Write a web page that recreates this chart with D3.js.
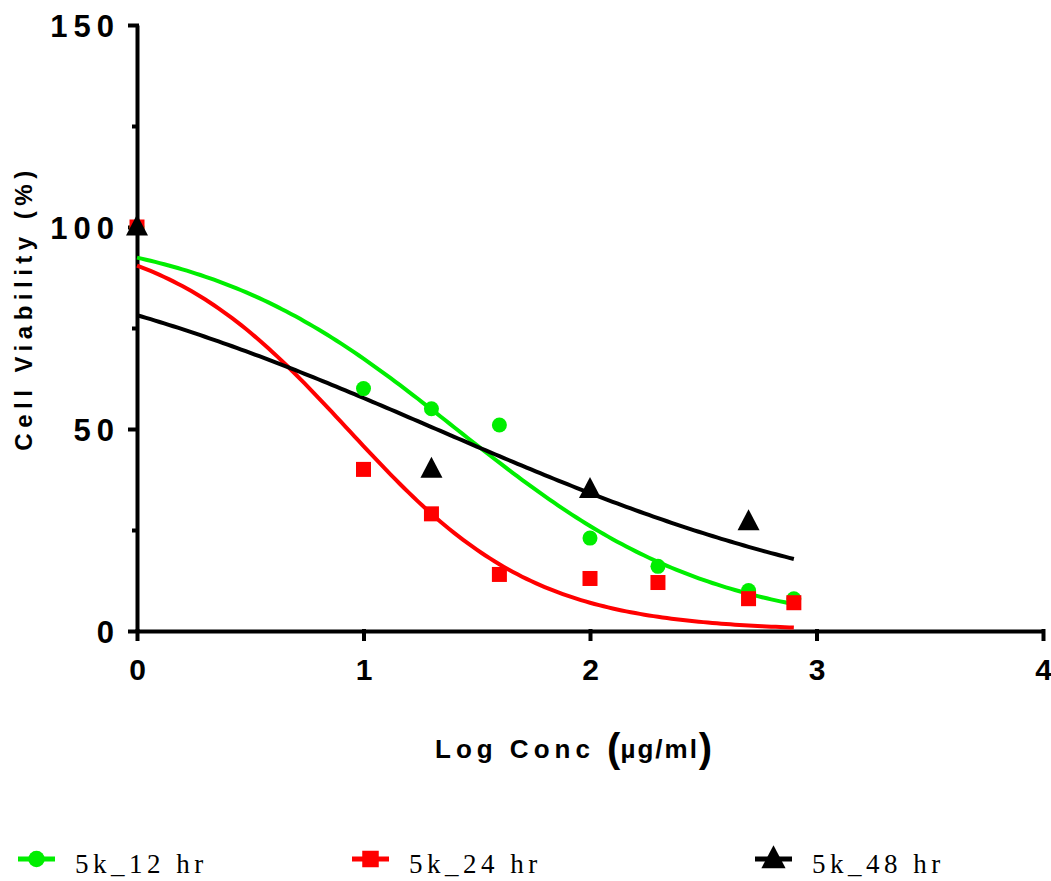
<!DOCTYPE html>
<html>
<head>
<meta charset="utf-8">
<script src="https://cdn.jsdelivr.net/npm/d3@7"></script>
<style>
  body { margin: 0; background: #fff; }
  svg { display: block; }
  .axis text { font-family: "Liberation Sans", Arial, sans-serif; font-weight: bold; fill: #000; }
</style>
</head>
<body>
<svg id="chart"></svg>
<script>
// data
const seriesNames = ['5k_12 hr', '5k_24 hr', '5k_48 hr'];
const seriesColors = ['#00ee00', '#ff0000', '#000000'];

const x12 = [0, 1, 1.3, 1.6, 2, 2.3, 2.7, 2.9];
const y12 = [100, 60, 55, 51, 23, 16, 10, 8];

const x24 = [0, 1, 1.3, 1.6, 2, 2.3, 2.7, 2.9];
const y24 = [100, 40, 29, 14, 13, 12, 8, 7];

const x48 = [0, 1.3, 2, 2.7];
const y48 = [100, 40, 35, 27];

// fitted dose-response curves (top, bottom, logIC50, hill)
const fitTop = [100, 100, 100];
const fitBottom = [0, 0, 0];
const fitLogIC50 = [1.41, 0.93, 1.32];
const fitHill = [0.77, 1.05, 0.42];
const fitRange = [0, 2.9];

const xTicks = [0, 1, 2, 3, 4];
const yTicks = [0, 50, 100, 150];
const yMinorTicks = [25, 75, 125];

let width = 1051;
let height = 881;

let svg = d3.select('#chart')
    .attr('width', width)
    .attr('height', height);

let xScale = d3.scaleLinear().domain([0, 4]).range([137, 1043]);
let yScale = d3.scaleLinear().domain([0, 150]).range([631, 25]);

let series = [
    { xs: x12, ys: y12, shape: 'circle' },
    { xs: x24, ys: y24, shape: 'square' },
    { xs: x48, ys: y48, shape: 'triangle' }
];

// axes
let yMinor = svg.append('g')
    .attr('class', 'axis')
    .attr('transform', 'translate(137,0)')
    .call(d3.axisLeft(yScale).tickValues(yMinorTicks).tickSize(5).tickFormat(''));
yMinor.select('.domain').remove();
yMinor.selectAll('line').attr('stroke-width', 4);

let yAxis = svg.append('g')
    .attr('class', 'axis')
    .attr('transform', 'translate(137,0)')
    .call(d3.axisLeft(yScale).tickValues(yTicks).tickSize(9).tickSizeOuter(0).tickPadding(8));
yAxis.select('.domain').attr('stroke-width', 4);
yAxis.selectAll('line').attr('stroke-width', 4).attr('x2', -9).attr('x1', 2);
yAxis.selectAll('text')
    .attr('font-size', 31)
    .attr('letter-spacing', 6)
    .attr('dy', '0.36em');

let xAxis = svg.append('g')
    .attr('class', 'axis')
    .attr('transform', 'translate(0,631)')
    .call(d3.axisBottom(xScale).tickValues(xTicks).tickFormat(d3.format('d'))
        .tickSize(10).tickSizeOuter(0).tickPadding(18));
xAxis.select('.domain').attr('stroke-width', 4);
xAxis.selectAll('line').attr('stroke-width', 4).attr('y1', -2);
xAxis.selectAll('text')
    .attr('font-size', 30)
    .attr('dy', '0.71em');

// axis titles
svg.append('text')
    .attr('transform', 'translate(32,308) rotate(-90)')
    .attr('text-anchor', 'middle')
    .attr('font-family', '"Liberation Sans", Arial, sans-serif')
    .attr('font-weight', 'bold')
    .attr('font-size', 24)
    .attr('letter-spacing', 5.5)
    .text('Cell Viability (%)');

let xTitle = svg.append('text')
    .attr('x', 435)
    .attr('y', 758)
    .attr('font-family', '"Liberation Sans", Arial, sans-serif')
    .attr('font-weight', 'bold')
    .attr('font-size', 26)
    .attr('letter-spacing', 5);
xTitle.append('tspan').text('Log Conc ');
xTitle.append('tspan').attr('font-size', 40).attr('letter-spacing', 0).attr('dy', 4).text('(');
xTitle.append('tspan').attr('dy', -4).attr('letter-spacing', 2).text('µg/ml');
xTitle.append('tspan').attr('font-size', 40).attr('letter-spacing', 0).attr('dy', 4).text(')');

// fitted curves
let line = d3.line()
    .x((d) => xScale(d[0]))
    .y((d) => yScale(d[1]));

series.forEach((s, i) => {
    let pts = d3.range(fitRange[0], fitRange[1] + 0.001, 0.02).map((x) => {
        let y = fitBottom[i] + (fitTop[i] - fitBottom[i]) / (1 + Math.pow(10, (x - fitLogIC50[i]) * fitHill[i]));
        return [x, y];
    });
    svg.append('path')
        .datum(pts)
        .attr('fill', 'none')
        .attr('stroke', seriesColors[i])
        .attr('stroke-width', 4)
        .attr('d', line);
});

// markers
let drawMarker = (g, shape, color, cx, cy, scale) => {
    if (shape === 'circle') {
        g.append('circle').attr('cx', cx).attr('cy', cy).attr('r', 7.5 * scale).attr('fill', color);
    } else if (shape === 'square') {
        let s = 15 * scale;
        g.append('rect').attr('x', cx - s / 2).attr('y', cy - s / 2).attr('width', s).attr('height', s).attr('fill', color);
    } else {
        let w = 22 * scale, h = 21 * scale;
        g.append('path')
            .attr('d', `M${cx},${cy - h * 0.6}L${cx + w / 2},${cy + h * 0.4}L${cx - w / 2},${cy + h * 0.4}Z`)
            .attr('fill', color);
    }
};

series.forEach((s, i) => {
    let g = svg.append('g');
    s.xs.forEach((x, j) => {
        drawMarker(g, s.shape, seriesColors[i], xScale(x), yScale(s.ys[j]), 1);
    });
});

// legend
let legendX = [18, 352, 755];
series.forEach((s, i) => {
    let g = svg.append('g').attr('transform', 'translate(' + legendX[i] + ',859)');
    g.append('line')
        .attr('x1', 0).attr('x2', 37)
        .attr('stroke', seriesColors[i])
        .attr('stroke-width', 5);
    drawMarker(g, s.shape, seriesColors[i], 18.5, 0, 1.1);
    g.append('text')
        .attr('x', 57)
        .attr('y', 14)
        .attr('font-family', '"Liberation Serif", "Times New Roman", serif')
        .attr('font-size', 27)
        .attr('letter-spacing', 4.5)
        .text(seriesNames[i]);
});
</script>
</body>
</html>
